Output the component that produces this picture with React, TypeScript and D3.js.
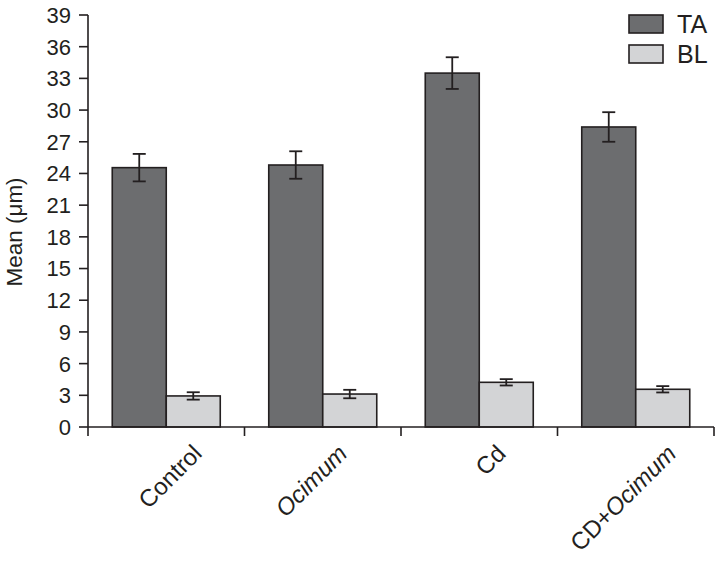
import React from "react";
import * as d3 from "d3";

const categories = ["Control", "Ocimum", "Cd", "CD+Ocimum"];
const seriesNames = ["TA", "BL"];
const taValues = [24.55, 24.8, 33.5, 28.4];
const taErrors = [1.3, 1.3, 1.5, 1.4];
const blValues = [2.94, 3.12, 4.23, 3.57];
const blErrors = [0.35, 0.4, 0.3, 0.3];
const yTicks = [0, 3, 6, 9, 12, 15, 18, 21, 24, 27, 30, 33, 36, 39];

const W = 720;
const H = 562;
const left = 88;
const right = 714;
const top = 15;
const bottom = 427;
const ink = "#231f20";
const fills: Record<string, string> = { TA: "#6c6d6f", BL: "#d3d4d6" };
const font = "'Liberation Sans', Arial, Helvetica, sans-serif";
// horizontal nudge of each rotated category label's end point from its band centre
const labelNudge = [37, 26, 28, 42];

function Label({ name }: { name: string }) {
  if (name === "Ocimum") return <tspan fontStyle="italic">Ocimum</tspan>;
  if (name === "CD+Ocimum")
    return (
      <>
        <tspan>CD+</tspan>
        <tspan fontStyle="italic">Ocimum</tspan>
      </>
    );
  return <tspan>{name}</tspan>;
}

export default function App() {
  const x = d3.scaleBand<string>().domain(categories).range([left, right]).paddingInner(0).paddingOuter(0);
  const xs = d3.scaleBand<string>().domain(seriesNames).range([0, x.bandwidth()]).paddingInner(0).paddingOuter(0.449);
  const y = d3.scaleLinear().domain([0, 39]).range([bottom, top]);

  const data = categories.map((c, i) => ({
    c,
    items: [
      { s: "TA", v: taValues[i], e: taErrors[i] },
      { s: "BL", v: blValues[i], e: blErrors[i] },
    ],
  }));

  const boundaries = [...categories.map((c) => x(c)!), right];

  return (
    <svg width={W} height={H} style={{ position: "absolute", left: 0, top: 0, background: "#fff" }} fontFamily={font}>
      {data.map((d) =>
        d.items.map((it) => {
          const bx = x(d.c)! + xs(it.s)!;
          const bw = xs.bandwidth();
          const cx = bx + bw / 2;
          return (
            <g key={d.c + it.s}>
              <rect x={bx} y={y(it.v)} width={bw} height={bottom - y(it.v)} fill={fills[it.s]} stroke={ink} strokeWidth={1.6} />
              <line x1={cx} x2={cx} y1={y(it.v + it.e)} y2={y(it.v - it.e)} stroke={ink} strokeWidth={1.8} />
              <line x1={cx - 6.5} x2={cx + 6.5} y1={y(it.v + it.e)} y2={y(it.v + it.e)} stroke={ink} strokeWidth={1.8} />
              <line x1={cx - 6.5} x2={cx + 6.5} y1={y(it.v - it.e)} y2={y(it.v - it.e)} stroke={ink} strokeWidth={1.8} />
            </g>
          );
        })
      )}
      <line x1={left} x2={left} y1={top} y2={bottom} stroke={ink} strokeWidth={1.6} />
      {yTicks.map((t) => (
        <g key={t}>
          <line x1={left - 9} x2={left} y1={y(t)} y2={y(t)} stroke={ink} strokeWidth={1.6} />
          <text x={left - 17} y={y(t)} dy="0.36em" textAnchor="end" fontSize={22} fill={ink}>
            {t}
          </text>
        </g>
      ))}
      <line x1={left} x2={right} y1={bottom} y2={bottom} stroke={ink} strokeWidth={1.6} />
      {boundaries.map((b, i) => (
        <line key={i} x1={b} x2={b} y1={bottom} y2={bottom + 9} stroke={ink} strokeWidth={1.6} />
      ))}
      {categories.map((c, i) => {
        const ax = x(c)! + x.bandwidth() / 2 + labelNudge[i];
        const ay = 455;
        return (
          <text key={c} x={ax} y={ay} textAnchor="end" fontSize={24} fill={ink} transform={`rotate(-45, ${ax}, ${ay})`}>
            <Label name={c} />
          </text>
        );
      })}
      <text transform={`translate(22, 232) rotate(-90)`} textAnchor="middle" fontSize={22.5} fill={ink}>
        Mean (μm)
      </text>
      {seriesNames.map((s, i) => (
        <g key={s} transform={`translate(629, ${15 + i * 30})`}>
          <rect x={0} y={0} width={34} height={18} fill={fills[s]} stroke={ink} strokeWidth={1.6} />
          <text x={48} y={9} dy="0.36em" fontSize={25} fill={ink}>
            {s}
          </text>
        </g>
      ))}
    </svg>
  );
}
